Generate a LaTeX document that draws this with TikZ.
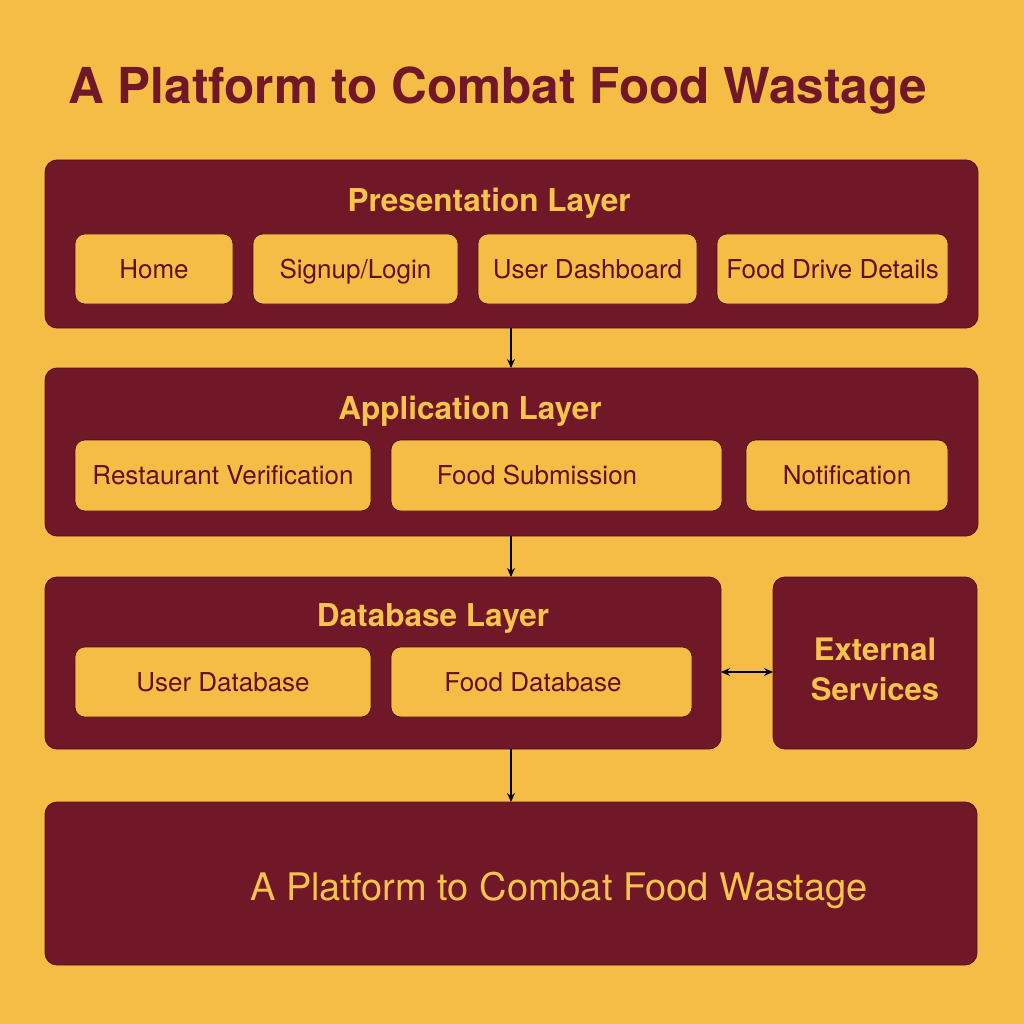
\documentclass[tikz,border=0pt]{standalone}
\usepackage{fontspec}
\setmainfont{TeX Gyre Heros}
\usetikzlibrary{arrows.meta}
\definecolor{bg}{HTML}{F5BD45}
\definecolor{mar}{HTML}{701828}
\definecolor{txt}{HTML}{5E1220}
\definecolor{ytxt}{HTML}{F6C44C}
\begin{document}
\begin{tikzpicture}[x=1pt,y=-1pt,
  layer/.style={fill=mar, draw=mar!75!black, line width=0.8pt, rounded corners=12pt, inner sep=0pt, outer sep=0pt},
  item/.style={fill=bg, draw=mar!60!black, line width=0.6pt, rounded corners=10pt, text=txt, inner sep=0pt,
    font=\fontsize{26}{30}\selectfont, text height=18.8pt, text depth=0pt},
  ltitle/.style={text=ytxt, font=\bfseries\fontsize{31.5}{36}\selectfont, inner sep=0pt, text height=22.7pt, text depth=0pt},
  arr/.style={draw=black, line width=1.1pt, -{Stealth[length=9pt,width=8pt]}},
  darr/.style={draw=black, line width=1.1pt, {Stealth[length=9pt,width=8pt]}-{Stealth[length=9pt,width=8pt]}}]
\fill[bg] (0,0) rectangle (1024,1024);
\useasboundingbox (0,0) rectangle (1024,1024);
% title
\node[anchor=base west, text=mar, font=\bfseries\fontsize{49.5}{56}\selectfont, inner sep=0pt] (title) at (68,104) {A Platform to Combat Food Wastage};
% layers
\node[layer, minimum width=933pt, minimum height=168pt] (pres) at (511.5,244) {};
\node[layer, minimum width=933pt, minimum height=168pt] (app) at (511.5,452) {};
\node[layer, minimum width=676pt, minimum height=172pt] (db) at (383,663) {};
\node[layer, minimum width=204pt, minimum height=172pt] (ext) at (875,663) {};
\node[layer, minimum width=932pt, minimum height=163pt] (bot) at (511,883.5) {};
% layer titles
\node[ltitle] (ptitle) at (489,200) {Presentation Layer};
\node[ltitle] (atitle) at (470,408) {Application Layer};
\node[ltitle] (dtitle) at (433,615) {Database Layer};
\node[text=ytxt, inner sep=0pt, align=center, font=\bfseries\fontsize{31}{40}\selectfont] (etitle) at (875,669) {External\\Services};
\node[text=ytxt, font=\fontsize{38}{42}\selectfont, inner sep=0pt, text height=27.4pt, text depth=0pt] (btitle) at (559,887) {A Platform to Combat Food Wastage};
% items
\node[item, minimum width=158pt, minimum height=70pt] (home) at (154,269) {Home};
\node[item, minimum width=205pt, minimum height=70pt] (sign) at (355.5,269) {Signup/Login};
\node[item, minimum width=219pt, minimum height=70pt] (dash) at (587.5,269) {User Dashboard};
\node[item, minimum width=231pt, minimum height=70pt] (drive) at (832.5,269) {Food Drive Details};
\node[item, minimum width=296pt, minimum height=71pt] (rest) at (223,475.5) {Restaurant Verification};
\node[item, minimum width=331pt, minimum height=71pt] (sub) at (556.5,475.5) {Food Submission\hspace*{39pt}};
\node[item, minimum width=202pt, minimum height=71pt] (notif) at (847,475.5) {Notification};
\node[item, minimum width=296pt, minimum height=70pt] (udb) at (223,682) {User Database};
\node[item, minimum width=301pt, minimum height=70pt] (fdb) at (541.5,682) {Food Database\hspace*{17pt}};
% connectors
\coordinate (ax) at (511,0);
\coordinate (dy) at (0,672);
\draw[arr] (pres.south -| ax) -- (app.north -| ax);
\draw[arr] (app.south -| ax) -- (db.north -| ax);
\draw[arr] (db.south -| ax) -- (bot.north -| ax);
\draw[darr] (db.east |- dy) -- (ext.west |- dy);
\end{tikzpicture}
\end{document}
